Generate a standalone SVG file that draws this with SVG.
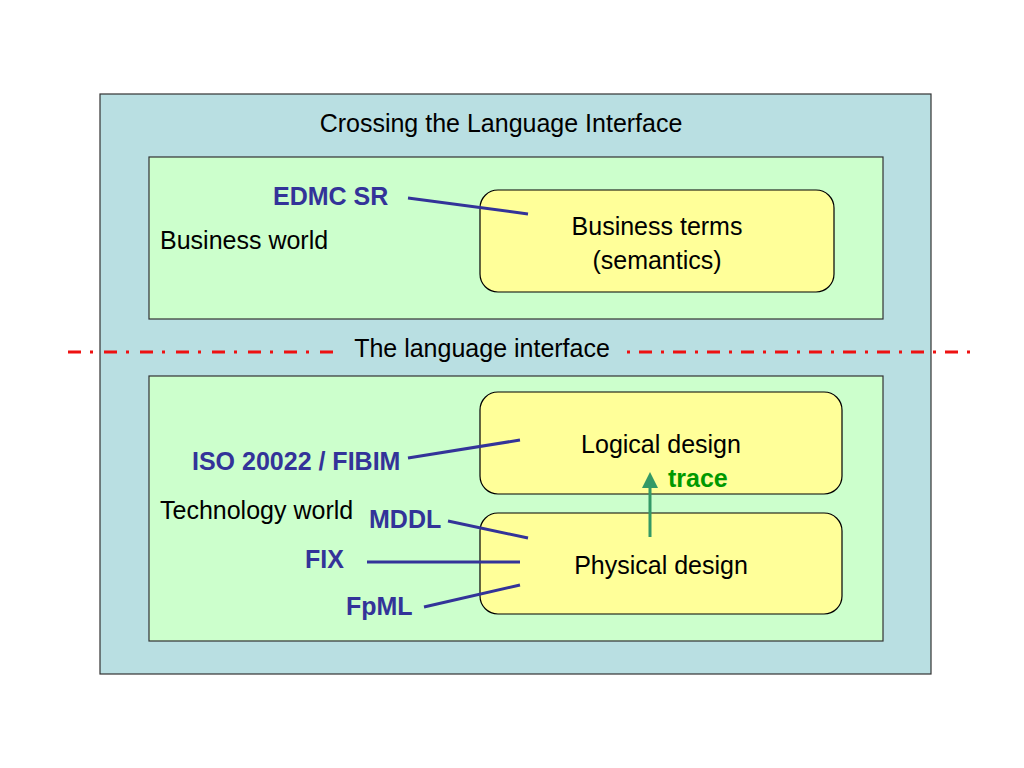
<svg xmlns="http://www.w3.org/2000/svg" width="1024" height="768" viewBox="0 0 1024 768">
<defs>
<style>
.t{font-family:"Liberation Sans",Arial,sans-serif;font-size:25px;fill:#000}
.b{font-family:"Liberation Sans",Arial,sans-serif;font-size:25px;font-weight:bold;fill:#333399}
.box{fill:#ffff99;stroke:#000;stroke-width:1.2}
.world{fill:#ccffcc;stroke:#333;stroke-width:1.2}
.lnk{stroke:#333399;stroke-width:3;fill:none}
</style>
</defs>
<rect width="1024" height="768" fill="#fff"/>
<g id="outer">
<rect x="100" y="94" width="831" height="580" fill="#b9dfe2" stroke="#333" stroke-width="1.2"/>
<text class="t" x="501" y="132" text-anchor="middle">Crossing the Language Interface</text>
</g>
<g id="business-world">
<rect class="world" x="149" y="157" width="734" height="162"/>
<text class="t" x="160" y="249">Business world</text>
</g>
<g id="technology-world">
<rect class="world" x="149" y="376" width="734" height="265"/>
<text class="t" x="160" y="519">Technology world</text>
</g>
<g id="interface">
<line x1="68" y1="352" x2="340" y2="352" stroke="#ee1111" stroke-width="3" stroke-dasharray="13 9 3 11"/>
<line x1="627" y1="352" x2="970" y2="352" stroke="#ee1111" stroke-width="3" stroke-dasharray="3 9 13 9"/>
<text class="t" x="482" y="357" text-anchor="middle">The language interface</text>
</g>
<g id="business-terms">
<rect class="box" x="480" y="190" width="354" height="102" rx="18"/>
<text class="t" x="657" y="235" text-anchor="middle">Business terms</text>
<text class="t" x="657" y="269" text-anchor="middle">(semantics)</text>
</g>
<g id="logical-design">
<rect class="box" x="480" y="392" width="362" height="102" rx="18"/>
<text class="t" x="661" y="453" text-anchor="middle">Logical design</text>
</g>
<g id="physical-design">
<rect class="box" x="480" y="513" width="362" height="101" rx="18"/>
<text class="t" x="661" y="574" text-anchor="middle">Physical design</text>
</g>
<g id="labels">
<text class="b" x="273" y="205">EDMC SR</text>
<text class="b" x="192" y="470">ISO 20022 / FIBIM</text>
<text class="b" x="369" y="528">MDDL</text>
<text class="b" x="305" y="568">FIX</text>
<text class="b" x="346" y="615">FpML</text>
<text x="668" y="487" font-family="Liberation Sans,Arial,sans-serif" font-size="25" font-weight="bold" fill="#009900">trace</text>
</g>
<g id="connectors">
<line class="lnk" x1="408" y1="198" x2="528" y2="214"/>
<line class="lnk" x1="408" y1="458" x2="520" y2="440"/>
<line class="lnk" x1="448" y1="521" x2="528" y2="538"/>
<line class="lnk" x1="367" y1="562" x2="520" y2="562"/>
<line class="lnk" x1="424" y1="607" x2="520" y2="585"/>
<line x1="650" y1="537" x2="650" y2="486" stroke="#339966" stroke-width="3"/>
<polygon points="650,472 658,488 642,488" fill="#339966"/>
</g>
</svg>
